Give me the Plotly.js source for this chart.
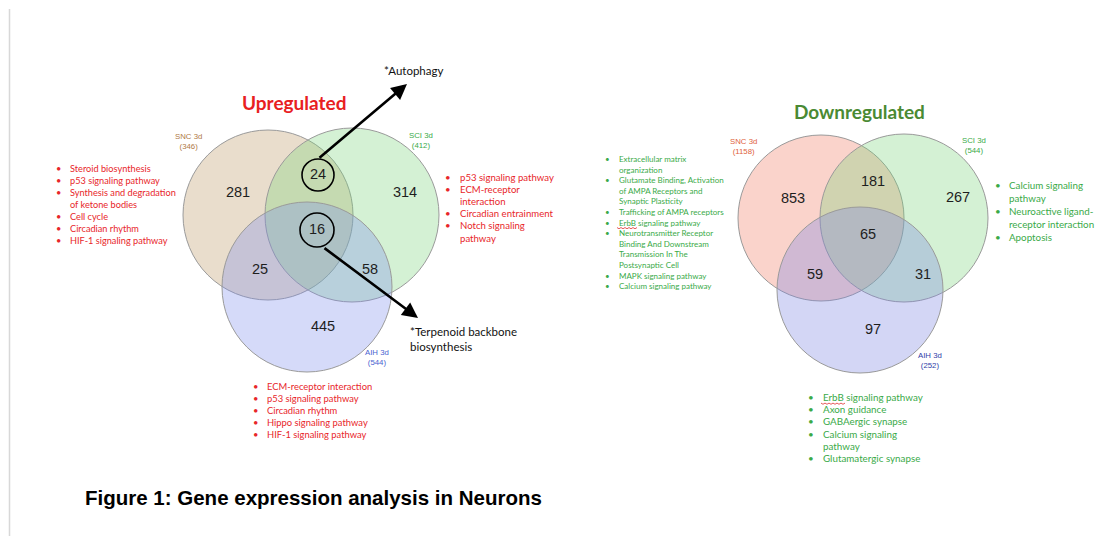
<!DOCTYPE html>
<html>
<head>
<meta charset="utf-8">
<script src="https://cdn.plot.ly/plotly-3.0.1.min.js"></script>
<style>html,body{margin:0;padding:0;background:#fff;}#chart{width:1120px;height:536px;}</style>
</head>
<body>
<div id="chart"></div>
<script>
// ---------------- DATA ----------------
const setNames = ["SNC 3d", "SCI 3d", "AIH 3d"];
const upTotals = [346, 412, 544];
const downTotals = [1158, 544, 252];
// region order: SNC only, SCI only, AIH only, SNC∩SCI, SNC∩AIH, SCI∩AIH, all three
const regionNames = ["SNC only", "SCI only", "AIH only", "SNC∩SCI", "SNC∩AIH", "SCI∩AIH", "SNC∩SCI∩AIH"];
const upCounts = [281, 314, 445, 24, 25, 58, 16];
const downCounts = [853, 267, 97, 181, 59, 31, 65];

const upSNCPathways = ["Steroid biosynthesis", "p53 signaling pathway", "Synthesis and degradation<br>of ketone bodies", "Cell cycle", "Circadian rhythm", "HIF-1 signaling pathway"];
const upSCIPathways = ["p53 signaling pathway", "ECM-receptor<br>interaction", "Circadian entrainment", "Notch signaling<br>pathway"];
const upAIHPathways = ["ECM-receptor interaction", "p53 signaling pathway", "Circadian rhythm", "Hippo signaling pathway", "HIF-1 signaling pathway"];
const downSNCPathways = ["Extracellular matrix<br>organization", "Glutamate Binding, Activation<br>of AMPA Receptors and<br>Synaptic Plasticity", "Trafficking of AMPA receptors", "ErbB signaling pathway", "Neurotransmitter Receptor<br>Binding And Downstream<br>Transmission In The<br>Postsynaptic Cell", "MAPK signaling pathway", "Calcium signaling pathway"];
const downSCIPathways = ["Calcium signaling<br>pathway", "Neuroactive ligand-<br>receptor interaction", "Apoptosis"];
const downAIHPathways = ["ErbB signaling pathway", "Axon guidance", "GABAergic synapse", "Calcium signaling<br>pathway", "Glutamatergic synapse"];
const spellFlagWord = "ErbB";

const upTitle = "Upregulated";
const downTitle = "Downregulated";
const autophagyNote = "*Autophagy";
const terpenoidNote = "*Terpenoid backbone<br>biosynthesis";
const caption = "Figure 1: Gene expression analysis in Neurons";

// ---------------- LAYOUT CONFIG ----------------
const SANS = "Lato, 'Open Sans', sans-serif";
const ARIAL = "'Liberation Sans', Arial, sans-serif";
const RED = "#e8262a";
const GREEN = "#3aaa48";

const upVenn = {
  circles: [
    {cx: 268, cy: 215, r: 85, fill: "rgba(195,160,115,0.36)"},
    {cx: 352, cy: 215, r: 87, fill: "rgba(120,210,120,0.32)"},
    {cx: 307, cy: 287, r: 85, fill: "rgba(125,140,235,0.32)"}
  ],
  labelPos: [[188, 141], [421, 140], [377, 357]],
  labelColors: ["#b07a45", "#3aaa48", "#4a63d0"],
  numPos: [[238, 193], [405, 193], [323, 327], [318, 175], [260, 270], [370, 270], [317, 230]]
};
const downVenn = {
  circles: [
    {cx: 821, cy: 218, r: 83, fill: "rgba(240,130,105,0.35)"},
    {cx: 904, cy: 218, r: 84, fill: "rgba(120,210,120,0.32)"},
    {cx: 860, cy: 290, r: 83, fill: "rgba(125,135,225,0.34)"}
  ],
  labelPos: [[743, 146], [974, 145], [930, 360]],
  labelColors: ["#e0623c", "#3aaa48", "#2f40a8"],
  numPos: [[793, 199], [958, 198], [873, 330], [873, 182], [815, 275], [923, 275], [868, 235]]
};

const lists = [
  {items: upSNCPathways, bx: 58, tx: 68, y0: 168, dy: 12, size: 9.2, color: RED},
  {items: upSCIPathways, bx: 448, tx: 458, y0: 177, dy: 12.2, size: 9.6, color: RED},
  {items: upAIHPathways, bx: 255, tx: 265, y0: 386, dy: 12, size: 9.4, color: RED},
  {items: downSNCPathways, bx: 607, tx: 617, y0: 159, dy: 10.6, size: 8, color: GREEN},
  {items: downSCIPathways, bx: 998, tx: 1007, y0: 185, dy: 13, size: 9.8, color: GREEN},
  {items: downAIHPathways, bx: 811, tx: 821, y0: 397, dy: 12.2, size: 9.8, color: GREEN}
];

// ---------------- BUILD ----------------
const shapes = [];
const annotations = [];
const traces = [];

// left thin border line
shapes.push({type: "line", xref: "x", yref: "y", x0: 9.5, x1: 9.5, y0: 9, y1: 536, line: {color: "#d8d8d8", width: 1.5}});

function addVenn(v, totals, counts) {
  v.circles.forEach(c => {
    shapes.push({type: "circle", xref: "x", yref: "y", layer: "below",
      x0: c.cx - c.r, x1: c.cx + c.r, y0: c.cy - c.r, y1: c.cy + c.r,
      fillcolor: c.fill, line: {color: "#9a9a9a", width: 1}});
  });
  setNames.forEach((n, i) => {
    annotations.push({x: v.labelPos[i][0], y: v.labelPos[i][1], xref: "x", yref: "y",
      text: n + "<br>(" + totals[i] + ")", showarrow: false, xanchor: "center", yanchor: "middle",
      font: {family: ARIAL, size: 7.8, color: v.labelColors[i]}});
  });
  traces.push({type: "scatter", mode: "text", hoverinfo: "skip",
    x: v.numPos.map(p => p[0]), y: v.numPos.map(p => p[1]),
    text: counts.map(String), customdata: regionNames,
    textfont: {family: ARIAL, size: 14.5, color: "#1e1e1e"}, textposition: "middle center"});
}
addVenn(upVenn, upTotals, upCounts);
addVenn(downVenn, downTotals, downCounts);

// circled intersections (up)
[[318, 175, 16], [317, 230, 17]].forEach(c => {
  shapes.push({type: "circle", xref: "x", yref: "y", x0: c[0] - c[2], x1: c[0] + c[2], y0: c[1] - c[2], y1: c[1] + c[2],
    line: {color: "#000", width: 1.6}});
});

// pathway lists
lists.forEach(L => {
  let k = 0;
  L.items.forEach(item => {
    const parts = item.split("<br>");
    annotations.push({x: L.bx, y: L.y0 + k * L.dy, xref: "x", yref: "y", text: "•", showarrow: false,
      xanchor: "center", yanchor: "middle", font: {family: SANS, size: L.size, color: L.color}});
    parts.forEach(p => {
      const yy = L.y0 + k * L.dy;
      annotations.push({x: L.tx, y: yy, xref: "x", yref: "y", text: p, showarrow: false,
        xanchor: "left", yanchor: "middle", font: {family: SANS, size: L.size, color: L.color}});
      if (p.indexOf(spellFlagWord) === 0) {
        // red spell-check squiggle under the flagged word
        const w = L.size * 2.35, yb = yy + L.size * 0.62, st = 2;
        let d = "M" + L.tx + "," + yb;
        for (let i = 1, x = L.tx; x < L.tx + w; i++) { x = L.tx + i * st; d += " L" + x + "," + (yb + (i % 2 ? 1.2 : 0)); }
        shapes.push({type: "path", xref: "x", yref: "y", path: d, line: {color: "#e03030", width: 0.8}});
      }
      k++;
    });
  });
});

// titles
annotations.push({x: 294, y: 102, xref: "x", yref: "y", text: "<b>" + upTitle + "</b>", showarrow: false,
  xanchor: "center", yanchor: "middle", font: {family: SANS, size: 19, color: "#e8201f"}});
annotations.push({x: 859, y: 111, xref: "x", yref: "y", text: "<b>" + downTitle + "</b>", showarrow: false,
  xanchor: "center", yanchor: "middle", font: {family: SANS, size: 19, color: "#4a8a33"}});

// arrows
annotations.push({x: 407, y: 84, ax: 318, ay: 159, xref: "x", yref: "y", axref: "x", ayref: "y", text: "",
  showarrow: true, arrowhead: 2, arrowsize: 1.2, arrowwidth: 2.6, arrowcolor: "#000"});
annotations.push({x: 418, y: 318, ax: 323, ay: 247, xref: "x", yref: "y", axref: "x", ayref: "y", text: "",
  showarrow: true, arrowhead: 2, arrowsize: 1.2, arrowwidth: 2.6, arrowcolor: "#000"});
annotations.push({x: 382, y: 70, xref: "x", yref: "y", text: autophagyNote, showarrow: false,
  xanchor: "left", yanchor: "middle", font: {family: SANS, size: 11.5, color: "#111"}});
annotations.push({x: 408, y: 338.5, xref: "x", yref: "y", text: terpenoidNote, showarrow: false,
  xanchor: "left", yanchor: "middle", align: "left", font: {family: SANS, size: 11.5, color: "#111"}});

// caption
annotations.push({x: 83, y: 497, xref: "x", yref: "y", text: "<b>" + caption + "</b>", showarrow: false,
  xanchor: "left", yanchor: "middle", font: {family: ARIAL, size: 20.5, color: "#000"}});

const layout = {
  width: 1120, height: 536, margin: {l: 0, r: 0, t: 0, b: 0},
  paper_bgcolor: "#fff", plot_bgcolor: "#fff", showlegend: false,
  xaxis: {range: [0, 1120], visible: false, fixedrange: true},
  yaxis: {range: [536, 0], visible: false, fixedrange: true},
  shapes: shapes, annotations: annotations
};
Plotly.newPlot("chart", traces, layout, {displayModeBar: false, staticPlot: true});
</script>
</body>
</html>
